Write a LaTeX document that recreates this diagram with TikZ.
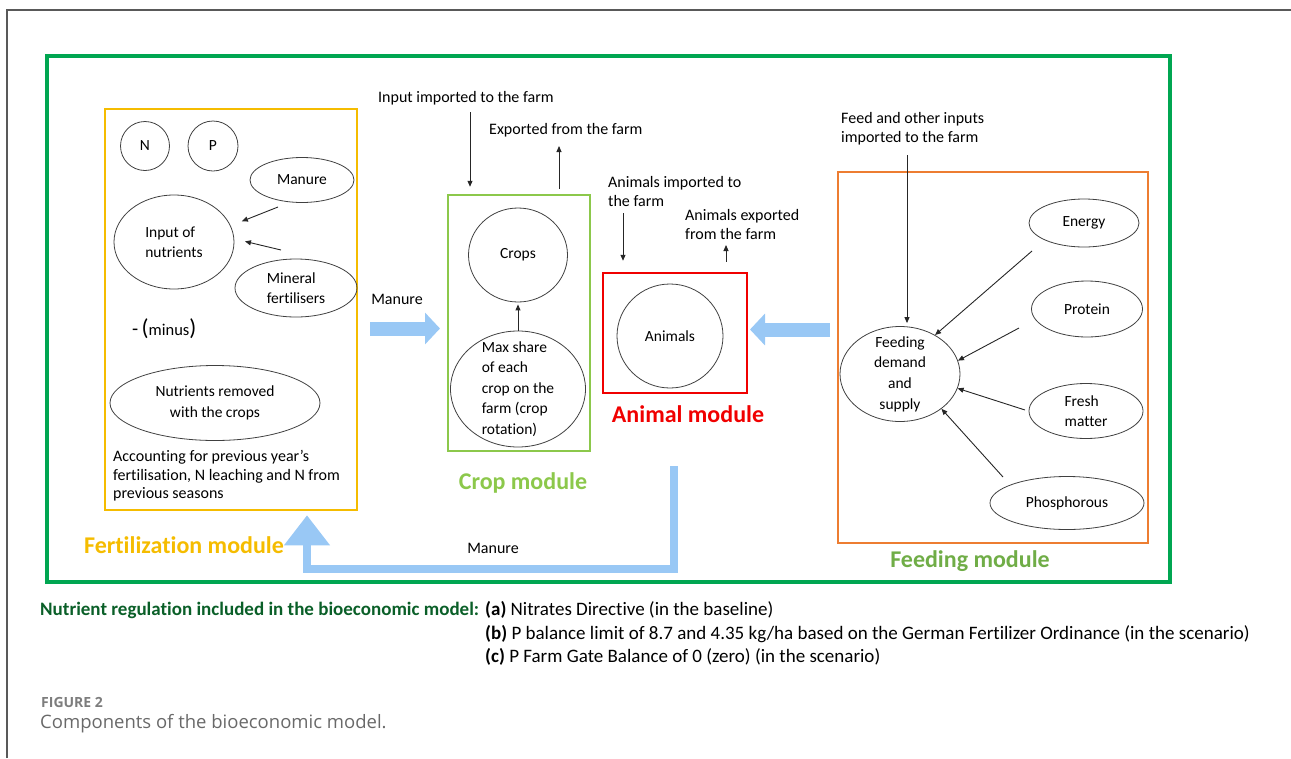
\documentclass[tikz,border=0pt]{standalone}
\usepackage{fontspec}
\setmainfont{Carlito}[Ligatures=NoCommon]
\newfontfamily\capfont{Open Sans}
\usetikzlibrary{arrows.meta,shapes.geometric,calc}
\definecolor{outergreen}{RGB}{0,166,81}
\definecolor{fyellow}{RGB}{245,188,0}
\definecolor{cropgreen}{RGB}{140,200,75}
\definecolor{animred}{RGB}{240,0,0}
\definecolor{feedorange}{RGB}{237,125,49}
\definecolor{feedgreen}{RGB}{112,173,71}
\definecolor{arrowblue}{RGB}{153,200,245}
\definecolor{regreen}{RGB}{10,95,40}
\definecolor{capgray}{RGB}{105,105,105}
\definecolor{figgray}{RGB}{125,125,125}
\newcommand{\myfs}[2]{\fontsize{#1}{#2}\selectfont}
\begin{document}
\begin{tikzpicture}[x=1pt,y=-1pt,
  ell/.style={ellipse, draw=black!75, line width=0.8pt, inner sep=0pt, font=\myfs{15.5}{20.5}, align=center},
  circ/.style={circle, draw=black!75, line width=0.8pt, inner sep=0pt, font=\myfs{15.5}{20}},
  txt/.style={inner sep=0pt, font=\myfs{16}{19}, align=left},
  modlab/.style={inner sep=0pt, font=\bfseries\myfs{24}{28}},
  arr/.style={-{Triangle[length=6pt,width=5pt]}, line width=0.9pt, draw=black!85},
  bluearr/.style={-{Triangle[length=15pt,width=31pt]}, line width=14pt, draw=arrowblue},
  bigblue/.style={-{Triangle[length=30pt,width=44pt]}, line width=8pt, draw=arrowblue, line join=miter},
  modbox/.style={draw, inner sep=0pt, line width=2.5pt},
  regtxt/.style={inner sep=0pt, anchor=west, font=\myfs{19}{22}}
]
\useasboundingbox (0,0) rectangle (1291,758);
% open outer frame
\draw[black!65, line width=1.2pt] (7,758) -- (7,10) -- (1291,10);

% module boxes
\node[modbox, draw=outergreen, line width=3.5pt, minimum width=1123pt, minimum height=526pt] (farm) at (608.5,319) {};
\node[modbox, draw=fyellow, minimum width=252pt, minimum height=401pt] (fert) at (231,309.5) {};
\node[modbox, draw=cropgreen, minimum width=142pt, minimum height=256pt] (crop) at (519,323) {};
\node[modbox, draw=animred, minimum width=144pt, minimum height=120pt] (anim) at (675,333) {};
\node[modbox, draw=feedorange, minimum width=310pt, minimum height=371pt] (feed) at (993,357.5) {};

% fertilization module contents
\node[circ, minimum size=49pt] (N) at (145,146) {N};
\node[circ, minimum size=50pt] (P) at (213,146) {P};
\node[ell, minimum width=104pt, minimum height=45pt] (manure) at (302,180) {Manure};
\node[ell, align=left, minimum width=120pt, minimum height=94pt] (input) at (174,242) {Input of\\nutrients};
\node[ell, align=left, minimum width=122pt, minimum height=58pt] (mineral) at (296,288) {Mineral\\fertilisers};
\node[txt, anchor=west] (minus) at (132,329) {{\myfs{20}{22}-\,}{\myfs{23}{24}(}{\myfs{16.5}{18}minus}{\myfs{23}{24})}};
\node[ell, minimum width=210pt, minimum height=75pt] (removed) at (215,403) {Nutrients removed\\with the crops};
\node[txt, font=\myfs{16}{18.5}, anchor=west] (acc) at (113,476) {Accounting for previous year’s\\fertilisation, N leaching and N from\\previous seasons};
\coordinate (fa1) at (278,207);
\coordinate (fa2) at (281,250);
\draw[arr, shorten >=12pt] (fa1) -- (input.16);
\draw[arr, shorten >=11pt] (fa2) -- (input.3);
\node[modlab, text=fyellow] (fertlab) at (184,545) {Fertilization module};

% crop module
\node[ell, minimum width=99pt, minimum height=94pt] (crops) at (518,255) {Crops};
\node[ell, minimum width=135pt, minimum height=116pt,
  label={[txt, font=\myfs{15.5}{20.5}]center:Max share\\of each\\crop on the\\farm (crop\\rotation)}] (maxshare) at (518,389) {};
\draw[arr, shorten >=2pt] (maxshare.north) -- (crops.south);
\node[txt, anchor=west] (lin) at (378,98) {Input imported to the farm};
\node[txt, anchor=west] (lex) at (489,130) {Exported from the farm};
\coordinate (ci) at (470,112);
\coordinate (ce) at (559,146);
\draw[arr, shorten >=7pt] (ci) -- (ci |- crop.north);
\draw[arr, shorten <=5pt] (ce |- crop.north) -- (ce);
\node[modlab, text=cropgreen] (croplab) at (523,483) {Crop module};

% animal module
\node[ell, minimum width=106pt, minimum height=104pt] (animals) at (670,336) {Animals};
\node[txt, anchor=west] (lai) at (608,191) {Animals imported to\\the farm};
\node[txt, anchor=west] (lae) at (685,224.5) {Animals exported\\from the farm};
\coordinate (ai) at (623,213);
\coordinate (ae) at (726,245);
\draw[arr, shorten >=11pt] (ai) -- (ai |- anim.north);
\draw[arr, shorten <=10pt] (ae |- anim.north) -- (ae);
\node[modlab, text=animred] (animlab) at (688,414) {Animal module};

% feeding module
\node[ell, minimum width=120pt, minimum height=95pt,
  label={[txt, font=\myfs{15.5}{20.7}, align=center]center:Feeding\\demand\\and\\supply}] (feeding) at (900,374) {};
\node[ell, minimum width=110pt, minimum height=48pt] (energy) at (1084,223) {Energy};
\node[ell, minimum width=111pt, minimum height=56pt] (protein) at (1087,309) {Protein};
\node[ell, align=left, minimum width=114pt, minimum height=55pt] (fresh) at (1086,411) {Fresh\\matter};
\node[ell, minimum width=154pt, minimum height=53pt] (phos) at (1067,503) {Phosphorous};
\node[txt, anchor=west] (lfi) at (841,128.5) {Feed and other inputs\\imported to the farm};
\coordinate (fi) at (907,155);
\coordinate (ea) at (1032,251);
\coordinate (pa) at (1019,328);
\coordinate (fma) at (1025,410);
\coordinate (pha) at (1003,477);
\draw[arr, shorten >=3pt] (fi) -- (fi |- feeding.north);
\draw[arr] (ea) -- (feeding.48);
\draw[arr] (pa) -- (feeding.13);
\draw[arr] (fma) -- (feeding.-14);
\draw[arr] (pha) -- (feeding.-40);
\node[modlab, text=feedgreen] (feedlab) at (970,561) {Feeding module};

% manure flows
\coordinate (bm1) at (370,328.5);
\coordinate (bm2) at (440,328.5);
\draw[bluearr] (bm1) -- (bm2);
\node[txt] (lm1) at (397,299) {Manure};
\coordinate (bf1) at (830,329.5);
\coordinate (bf2) at (750,329.5);
\draw[bluearr] (bf1) -- (bf2);
\coordinate (bx) at (307,0);
\draw[bigblue, shorten >=4pt] (673.5,466) -- (673.5,569) -- (307,569) -- (fert.south -| bx);
\node[txt] (lm2) at (493,548) {Manure};

% regulation text
\node[regtxt, font=\bfseries\myfs{19}{22}, text=regreen] (reg) at (40,610) {Nutrient regulation included in the bioeconomic model:};
\node[regtxt] (rega) at (485,610) {\textbf{(a)} Nitrates Directive (in the baseline)};
\node[regtxt] (regb) at (485,634) {\textbf{(b)} P balance limit of 8.7 and 4.35 kg/ha based on the German Fertilizer Ordinance (in the scenario)};
\node[regtxt] (regc) at (485,657) {\textbf{(c)} P Farm Gate Balance of 0 (zero) (in the scenario)};

% caption
\node[inner sep=0pt, anchor=west, font=\capfont\bfseries\myfs{14}{17}, text=figgray] (figlab) at (41,702) {FIGURE 2};
\node[inner sep=0pt, anchor=west, font=\capfont\myfs{18.5}{22}, text=capgray] (caption) at (40,724) {Components of the bioeconomic model.};
\end{tikzpicture}
\end{document}
